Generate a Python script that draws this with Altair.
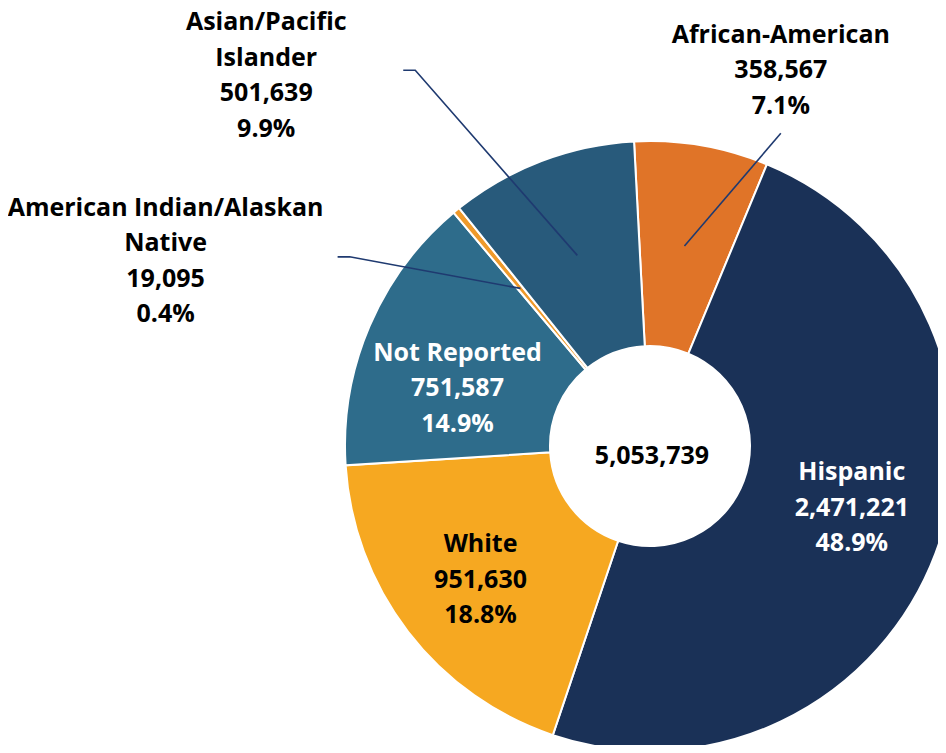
import math
import altair as alt
import pandas as pd

# ---------------- data ----------------
categories = ["African-American", "Hispanic", "White", "Not Reported",
              "American Indian/Alaskan Native", "Asian/Pacific Islander"]
label_lines = [["African-American"], ["Hispanic"], ["White"], ["Not Reported"],
               ["American Indian/Alaskan", "Native"], ["Asian/Pacific", "Islander"]]
counts = [358567, 2471221, 951630, 751587, 19095, 501639]
percents = [7.1, 48.9, 18.8, 14.9, 0.4, 9.9]
total = 5053739

# ---------------- style / layout ----------------
colors = ["#E07428", "#1A3157", "#F6A821", "#2E6C8B", "#EF9A2B", "#285A7B"]
FONT = "Open Sans"
FS = 25
LH = 35.5
W, H = 930, 737
CX, CY = 642, 438
R_IN, R_OUT = 100, 305
ROT = -3.0  # degrees
LINE_COLOR = "#1F3A70"

# inside labels: radius, angle delta (deg), text colour
inside = {
    "Hispanic": (211, -3.6, "white"),
    "White": (216, -0.8, "black"),
    "Not Reported": (201, -6.4, "white"),
}
# outside labels: leader start radius, bend (r, angle), tail dx, text offset from tail end
outside = {
    "African-American": (203, (339, 22.7), 0, (0, -63)),
    "Asian/Pacific Islander": (204, (443, 328.0), -12, (-137, 5)),
    "American Indian/Alaskan Native": (204, (355, 302.2), -12, (-172, 4)),
}

df = pd.DataFrame({"category": categories, "count": counts, "idx": list(range(len(categories)))})


def polar(r, ang_deg):
    a = math.radians(ang_deg)
    return CX + r * math.sin(a), CY - r * math.cos(a)


rows_text, rows_line = [], []
cum = 0
for i, cat in enumerate(categories):
    mid = ROT + 360.0 * (cum + counts[i] / 2) / total
    cum += counts[i]
    parts = label_lines[i] + [f"{counts[i]:,}", f"{percents[i]:.1f}%"]
    txt = "\n".join(parts)
    shift = (len(parts) - 1) / 2 * LH  # block centre -> first line
    if cat in inside:
        r, d, col = inside[cat]
        x, y = polar(r, mid + d)
        rows_text.append({"x": x, "y": y - shift, "t": txt, "c": col})
    else:
        r0, (rb, ab), tail, (tdx, tdy) = outside[cat]
        x0, y0 = polar(r0, mid)
        xb, yb = polar(rb, ab)
        xe, ye = xb + tail, yb
        rows_line += [{"id": cat, "o": 0, "x": x0, "y": y0},
                      {"id": cat, "o": 1, "x": xb, "y": yb},
                      {"id": cat, "o": 2, "x": xe, "y": ye}]
        rows_text.append({"x": xe + tdx, "y": ye + tdy - shift, "t": txt, "c": "black"})

rows_text.append({"x": CX + 2, "y": CY + 10, "t": f"{total:,}", "c": "black"})
tdf = pd.DataFrame(rows_text)
ldf = pd.DataFrame(rows_line)

arcs = alt.Chart(df).mark_arc(
    innerRadius=R_IN, outerRadius=R_OUT, stroke="white", strokeWidth=2
).encode(
    theta=alt.Theta("count:Q", stack=True,
                    scale=alt.Scale(range=[math.radians(ROT), math.radians(ROT) + 2 * math.pi])),
    color=alt.Color("category:N", scale=alt.Scale(domain=categories, range=colors), legend=None),
    order=alt.Order("idx:Q"),
    x=alt.value(CX),
    y=alt.value(CY),
)

lines = alt.Chart(ldf).mark_line(color=LINE_COLOR, strokeWidth=1.6).encode(
    x=alt.X("x:Q", scale=None, axis=None),
    y=alt.Y("y:Q", scale=None, axis=None),
    detail="id:N",
    order="o:Q",
)

texts = alt.Chart(tdf).mark_text(
    font=FONT, fontSize=FS, fontWeight="bold", lineBreak="\n", lineHeight=LH,
    align="center", baseline="middle"
).encode(
    x=alt.X("x:Q", scale=None, axis=None),
    y=alt.Y("y:Q", scale=None, axis=None),
    text="t:N",
    color=alt.Color("c:N", scale=None),
)

chart = alt.layer(arcs, lines, texts).properties(
    width=W, height=H, autosize=alt.AutoSizeParams(type="none"), padding=0
).configure_view(stroke=None)

chart.save("out.html", embed_options={"renderer": "svg", "actions": False})
